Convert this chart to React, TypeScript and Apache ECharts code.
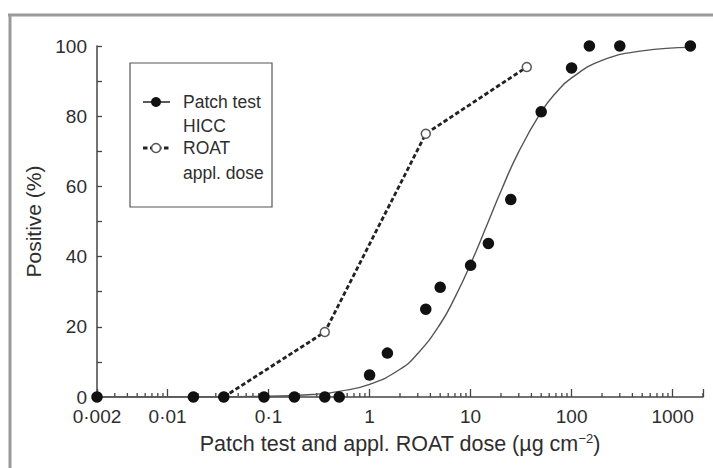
import React, { useEffect, useRef } from "react";
import * as echarts from "echarts";

// Patch test (HICC) observed points
const patchDoses = [0.002, 0.018, 0.036, 0.09, 0.18, 0.36, 0.5, 1, 1.5, 3.6, 5, 10, 15, 25, 50, 100, 150, 300, 1500];
const patchPositive = [0, 0, 0, 0, 0, 0, 0, 6.25, 12.5, 25, 31.25, 37.5, 43.75, 56.25, 81.25, 93.75, 100, 100, 100];

// Fitted dose-response curve for patch test
const curveDoses = [0.002, 0.01, 0.1, 0.3, 0.5, 1, 2, 3, 5, 7, 10, 15, 20, 30, 50, 70, 100, 200, 500, 1500];
const curvePositive = [0, 0, 0.2, 0.8, 1.6, 3.6, 7.9, 12.4, 20.8, 28.4, 37.9, 50, 58.7, 69.9, 81.2, 86.7, 90.9, 95.9, 98.6, 99.6];

// ROAT applied dose
const roatDoses = [0.036, 0.36, 3.6, 36];
const roatPositive = [0, 18.5, 75, 94];

// Axis tick labels
const xTickValues = [0.002, 0.01, 0.1, 1, 10, 100, 1000];
const xTickLabels = ["0·002", "0·01", "0·1", "1", "10", "100", "1000"];
const minorMultipliers = [2, 3, 4, 5, 6, 7, 8, 9];
const minorDecades = [0.001, 0.01, 0.1, 1, 10, 100, 1000];

const FONT = "'Liberation Sans', Arial, Helvetica, sans-serif";
const TEXT = "#2e2e2e";
const AXIS = "#444";

export default function App() {
  const ref = useRef<HTMLDivElement>(null);
  useEffect(() => {
    if (!ref.current) return;
    const chart = echarts.init(ref.current, null, { renderer: "svg" });

    const minorTicks: number[][] = [];
    minorDecades.forEach((d) =>
      minorMultipliers.forEach((m) => {
        const v = d * m;
        if (v > 0.0021 && v <= 2000.1) minorTicks.push([v, 0]);
      })
    );

    const zip = (xs: number[], ys: number[]) => xs.map((x, i) => [x, ys[i]]);
    const legendText = (text: string, y: number) => ({
      type: "text",
      x: 183,
      y,
      z: 11,
      style: { text, fontFamily: FONT, fontSize: 17.5, fill: TEXT, verticalAlign: "middle" },
    });

    chart.setOption({
      animation: false,
      backgroundColor: "#fff",
      grid: { left: 97, right: 10, top: 46, bottom: 71, containLabel: false },
      xAxis: {
        type: "log",
        logBase: 10,
        min: 0.002,
        max: 2000,
        axisLine: { show: true, lineStyle: { color: AXIS, width: 1.5 } },
        axisTick: { show: true, inside: true, length: 8, lineStyle: { color: AXIS, width: 1.3 } },
        splitLine: { show: false },
        minorSplitLine: { show: false },
        axisLabel: {
          fontFamily: FONT,
          fontSize: 19,
          color: TEXT,
          margin: 10,
          formatter: (v: number) => {
            const i = xTickValues.findIndex((t) => Math.abs(Math.log10(t) - Math.log10(v)) < 0.01);
            return i >= 0 ? xTickLabels[i] : "";
          },
        },
        name: "Patch test and appl. ROAT dose (µg cm{sup|−2})",
        nameLocation: "middle",
        nameGap: 35,
        nameTextStyle: {
          fontFamily: FONT,
          fontSize: 21.5,
          color: TEXT,
          rich: {
            sup: { fontFamily: FONT, fontSize: 13, color: TEXT, verticalAlign: "top", padding: [0, 0, 10, 0] },
          },
        },
      },
      yAxis: {
        type: "value",
        min: 0,
        max: 100,
        interval: 20,
        axisLine: { show: true, lineStyle: { color: AXIS, width: 1.5 } },
        axisTick: { show: true, inside: true, length: 5, lineStyle: { color: AXIS, width: 1.3 } },
        minorTick: { show: true, splitNumber: 2, length: 5, lineStyle: { color: AXIS, width: 1.3 } },
        splitLine: { show: false },
        minorSplitLine: { show: false },
        axisLabel: { fontFamily: FONT, fontSize: 19, color: TEXT, margin: 10 },
        name: "Positive (%)",
        nameLocation: "middle",
        nameGap: 45,
        nameTextStyle: { fontFamily: FONT, fontSize: 21, color: TEXT },
      },
      series: [
        {
          type: "custom",
          name: "minorTicks",
          silent: true,
          clip: false,
          z: 1,
          data: minorTicks,
          renderItem: (params: any, api: any) => {
            const p = api.coord([api.value(0), 0]);
            return {
              type: "line",
              shape: { x1: p[0], y1: p[1], x2: p[0], y2: p[1] - 4 },
              style: { stroke: AXIS, lineWidth: 1.3 },
            };
          },
        },
        {
          type: "line",
          name: "fit",
          data: zip(curveDoses, curvePositive),
          smooth: true,
          symbol: "none",
          silent: true,
          z: 2,
          lineStyle: { color: "#555", width: 1.4 },
        },
        {
          type: "line",
          name: "ROAT appl. dose",
          data: zip(roatDoses, roatPositive),
          z: 3,
          symbol: "circle",
          symbolSize: 9,
          lineStyle: { color: "#222", width: 2.8, type: [4.5, 2.5] },
          itemStyle: { color: "#fff", borderColor: "#555", borderWidth: 1.5, opacity: 1 },
        },
        {
          type: "scatter",
          name: "Patch test HICC",
          data: zip(patchDoses, patchPositive),
          z: 4,
          symbol: "circle",
          symbolSize: 11.5,
          itemStyle: { color: "#111", opacity: 1 },
        },
      ],
      graphic: [
        { type: "line", shape: { x1: 8, y1: 15, x2: 713, y2: 15 }, style: { stroke: "#9a9a9a", lineWidth: 3 } },
        { type: "line", shape: { x1: 10, y1: 14, x2: 10, y2: 468 }, style: { stroke: "#9a9a9a", lineWidth: 3 } },
        {
          type: "rect",
          shape: { x: 130, y: 63, width: 142, height: 144 },
          style: { fill: "#fff", stroke: "#555", lineWidth: 1.2 },
          z: 10,
        },
        { type: "line", shape: { x1: 143, y1: 102, x2: 170, y2: 102 }, style: { stroke: "#222", lineWidth: 1.5 }, z: 11 },
        { type: "circle", shape: { cx: 156, cy: 102, r: 5 }, style: { fill: "#111" }, z: 11 },
        legendText("Patch test", 102),
        legendText("HICC", 126),
        {
          type: "line",
          shape: { x1: 143, y1: 148, x2: 170, y2: 148 },
          style: { stroke: "#222", lineWidth: 2.8, lineDash: [4.5, 2.5] },
          z: 11,
        },
        { type: "circle", shape: { cx: 156, cy: 148, r: 4.5 }, style: { fill: "#fff", stroke: "#555", lineWidth: 1.5 }, z: 12 },
        legendText("ROAT", 148),
        legendText("appl. dose", 173),
      ],
    });
    return () => chart.dispose();
  }, []);

  return (
    <div
      ref={ref}
      style={{ position: "absolute", left: 0, top: 0, width: 713, height: 468, background: "#fff" }}
    />
  );
}
